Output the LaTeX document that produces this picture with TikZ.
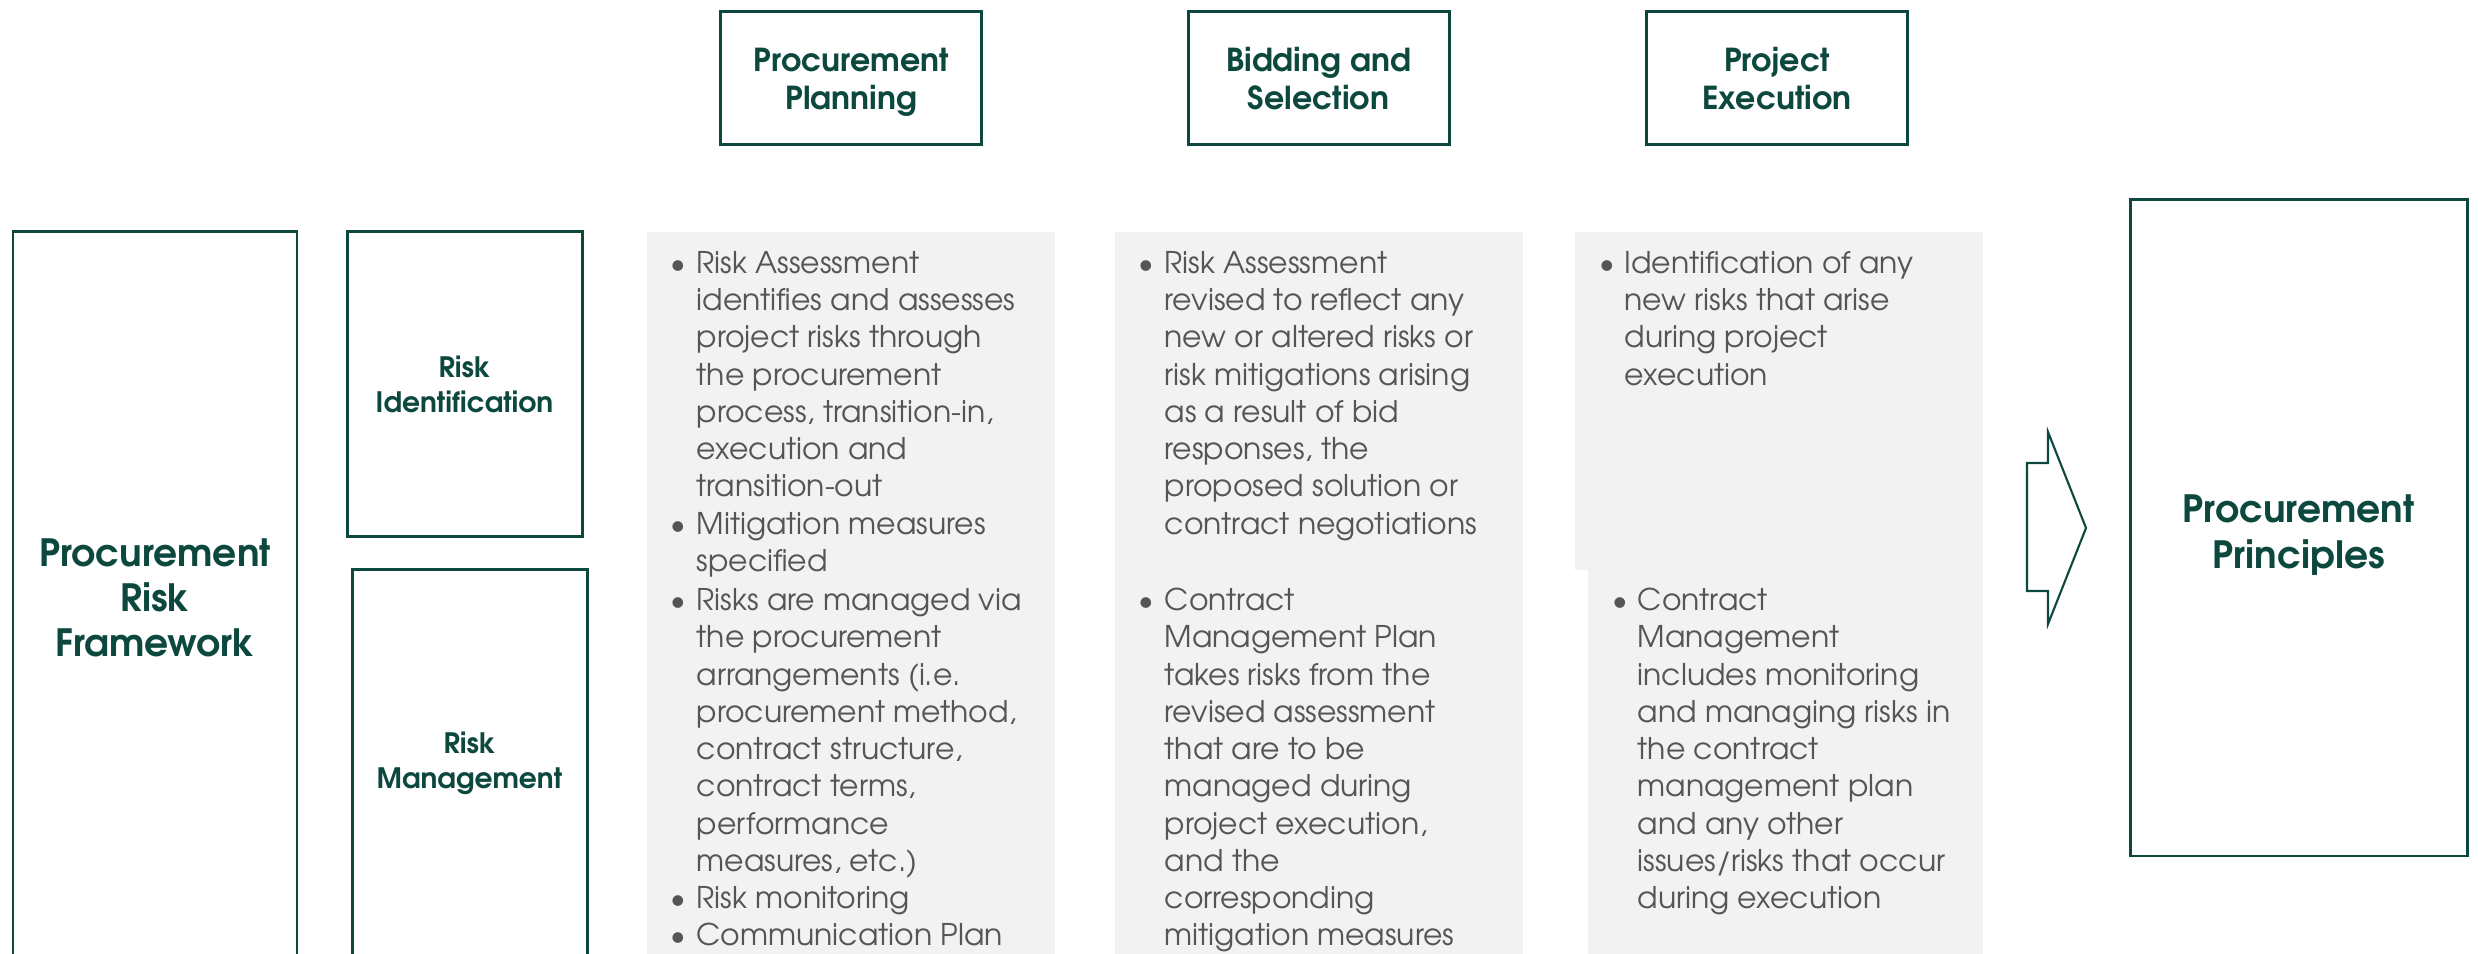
\documentclass[tikz,border=0pt]{standalone}
\usepackage{fontspec}
\setmainfont{TeX Gyre Adventor}
\usepackage{tikz}
\usetikzlibrary{positioning}
\definecolor{pgreen}{HTML}{0C483E}
\definecolor{ptext}{HTML}{555555}
\definecolor{ppanel}{HTML}{F2F2F2}
\newcommand{\bul}{\rule{0pt}{7pt}\llap{\textbullet\hspace{2.9pt}}}
\newcommand{\htop}{\rule{0pt}{9.5pt}}
\newcommand{\hbot}{\rule[-2.5pt]{0pt}{2.5pt}}

\begin{document}
\begin{tikzpicture}[
    box/.style={draw=pgreen,line width=0.85pt,text=pgreen,align=center,inner sep=0pt},
    head/.style={box,minimum width=2.61cm,minimum height=1.33cm,font=\bfseries\fontsize{9}{10.8}\selectfont},
    body/.style={text=ptext,align=left,anchor=north west,inner sep=0pt,font=\fontsize{8.5}{10.6}\selectfont}]
    \useasboundingbox (0,0) rectangle (24.78,-9.54);
    \clip (0,0) rectangle (24.78,-9.54);

    % grey columns
    \fill[ppanel] (6.47,-2.32) rectangle (10.55,-9.54);
    \fill[ppanel] (11.15,-2.32) rectangle (15.23,-9.54);
    \fill[ppanel] (15.75,-2.32) rectangle (19.83,-5.70);
    \fill[ppanel] (15.88,-5.70) rectangle (19.83,-9.54);

    \node[head] (PLAN) at (8.513,-0.785) {\htop Procurement\\Planning\hbot};
    \node[head] (BID) at (13.185,-0.785) {\htop Bidding and\\Selection\hbot};
    \node[head] (EXEC) at (17.77,-0.785) {\htop Project\\Execution\hbot};

    \node[box,minimum width=2.84cm,minimum height=7.32cm,font=\bfseries\fontsize{10.7}{12.8}\selectfont] (FRAME) at (1.55,-5.98) {Procurement\\Risk\\Framework};
    \node[box,minimum width=2.35cm,minimum height=3.05cm,font=\bfseries\fontsize{8}{10}\selectfont] (RID) at (4.645,-3.845) {Risk\\Identification};
    \node[box,minimum width=2.35cm,minimum height=3.87cm,font=\bfseries\fontsize{8}{10}\selectfont] (RMG) at (4.695,-7.635) {Risk\\Management};
    \node[box,minimum width=3.37cm,minimum height=6.56cm,font=\bfseries\fontsize{10.7}{13}\selectfont] (PRIN) at (22.985,-5.28) {\rule{0pt}{12pt}Procurement\\Principles};

    \node[body] (PLANa) at (6.96,-2.481) {\bul Risk Assessment\\identifies and assesses\\project risks through\\the procurement\\process, transition-in,\\execution and\\transition-out\\\bul Mitigation measures\\specified};
    \node[body] (PLANb) at (6.96,-5.854) {\bul Risks are managed via\\the procurement\\arrangements (i.e.\\procurement method,\\contract structure,\\contract terms,\\performance\\measures, etc.)\\\bul Risk monitoring\\\bul Communication Plan};
    \node[body] (BIDa) at (11.64,-2.481) {\bul Risk Assessment\\revised to reflect any\\new or altered risks or\\risk mitigations arising\\as a result of bid\\responses, the\\proposed solution or\\contract negotiations};
    \node[body] (BIDb) at (11.64,-5.854) {\bul Contract\\Management Plan\\takes risks from the\\revised assessment\\that are to be\\managed during\\project execution,\\and the\\corresponding\\mitigation measures};
    \node[body] (EXECa) at (16.24,-2.481) {\bul Identification of any\\new risks that arise\\during project\\execution};
    \node[body] (EXECb) at (16.37,-5.854) {\bul Contract\\Management\\includes monitoring\\and managing risks in\\the contract\\management plan\\and any other\\issues/risks that occur\\during execution};

    % block arrow
    \draw[pgreen,line width=0.6pt] (20.27,-4.63) -- (20.48,-4.63) -- (20.48,-4.32) -- (20.86,-5.28)
        -- (20.48,-6.24) -- (20.48,-5.91) -- (20.27,-5.91) -- cycle;
\end{tikzpicture}
\end{document}
